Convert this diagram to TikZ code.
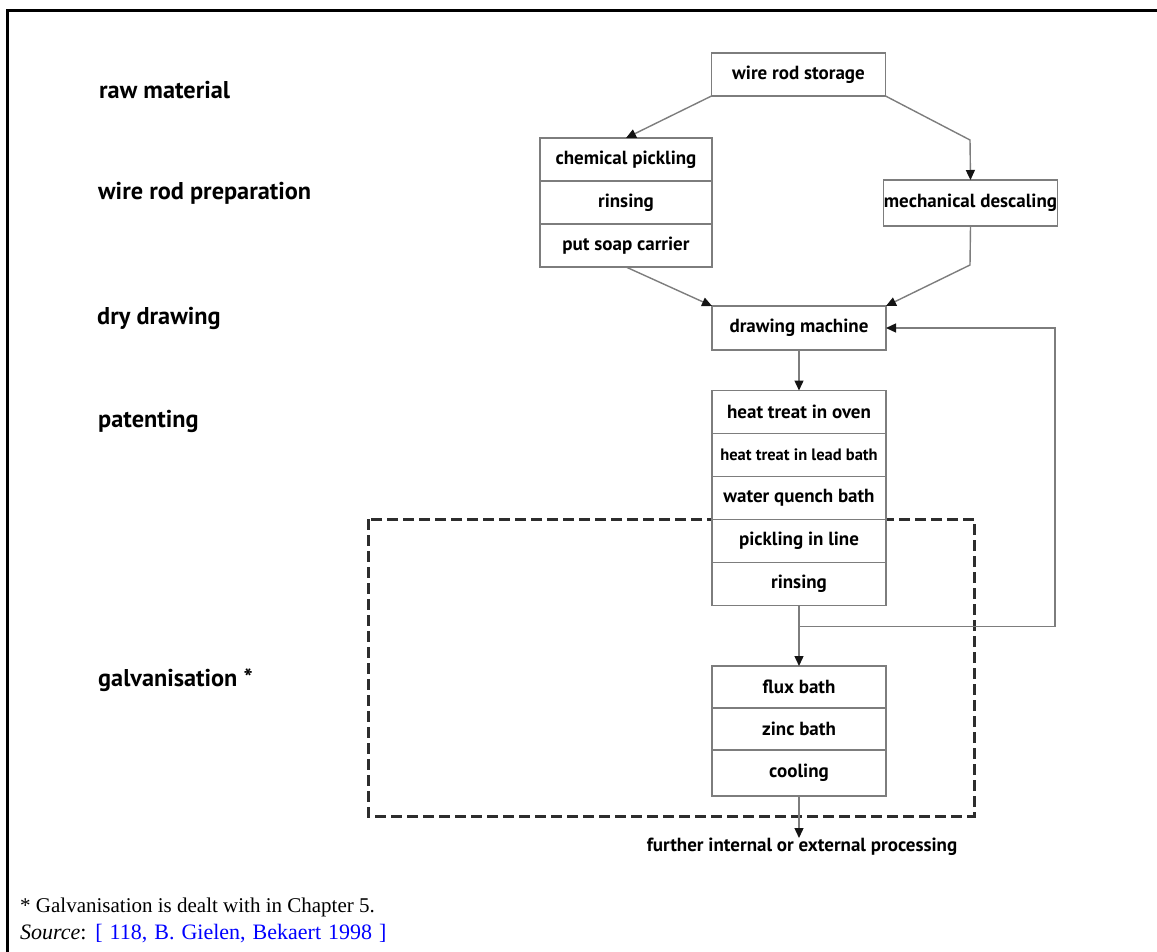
\documentclass[tikz,border=0pt]{standalone}
\usepackage{fontspec}
\setmainfont{Liberation Serif}
\newfontfamily\stepfont{PT Sans}
\usetikzlibrary{arrows.meta, positioning, backgrounds}
\definecolor{linecolor}{RGB}{125, 125, 125}
\definecolor{tipcolor}{RGB}{20, 20, 20}
\definecolor{dashcolor}{RGB}{45, 45, 45}
\definecolor{srccolor}{RGB}{0, 0, 255}
\tikzset{
  cell/.style={
    rectangle, minimum width=174pt, minimum height=43pt,
    inner sep=0pt, outer sep=0pt, text centered,
    font=\stepfont\bfseries\fontsize{19}{22}\selectfont,
    draw=linecolor, line width=1.4pt, fill=white
  },
  smallcell/.style={
    cell, font=\stepfont\bfseries\fontsize{16.5}{19}\selectfont
  },
  stagelabel/.style={
    anchor=west, inner sep=0pt,
    font=\stepfont\bfseries\fontsize{24.3}{28}\selectfont
  },
  arr/.style={
    -{Triangle[length=10pt, width=9pt, color=tipcolor]},
    line width=1.4pt, draw=linecolor
  },
  flow/.style={
    line width=1.4pt, draw=linecolor
  },
  galvbox/.style={
    dashed, dash pattern=on 11pt off 5pt, line width=3pt, draw=dashcolor
  },
  frameline/.style={
    line width=3pt, draw=black
  },
  note/.style={
    anchor=west, inner sep=0pt, font=\fontsize{21}{24}\selectfont
  }
}

\begin{document}
\begin{tikzpicture}[x=1pt, y=-1pt]

  \useasboundingbox (0,0) rectangle (1157,952);

  % ── Frame ──────────────────────────────────────────────────
  \draw[frameline] (7,952) -- (7,11) -- (1157,11);

  % ── Stage labels ───────────────────────────────────────────
  \node[stagelabel] (lraw)   at (99,90)  {raw material};
  \node[stagelabel] (lprep)  at (98,193) {wire rod preparation};
  \node[stagelabel] (ldry)   at (97,318) {dry drawing};
  \node[stagelabel] (lpat)   at (98,421) {patenting};
  \node[stagelabel] (lgalv)  at (98,680) {galvanisation *};

  % ── Raw material ───────────────────────────────────────────
  \node[cell] (store) at (798.5,74.5) {wire rod storage};

  % ── Wire rod preparation ───────────────────────────────────
  \node[cell, minimum width=172pt] (chem) at (626,159.5) {chemical pickling};
  \node[cell, minimum width=172pt, below=0pt of chem] (rinsea) {rinsing};
  \node[cell, minimum width=172pt, below=0pt of rinsea] (soap) {put soap carrier};
  \node[cell, minimum height=46pt] (desc) at (970.5,203) {mechanical descaling};

  % ── Dry drawing ────────────────────────────────────────────
  \node[cell, minimum height=44pt] (draw) at (799,328) {drawing machine};

  % ── Patenting ──────────────────────────────────────────────
  \node[cell]      (oven)   at (799,412) {heat treat in oven};
  \node[smallcell, below=0pt of oven]   (lead)   {heat treat in lead bath};
  \node[cell,      below=0pt of lead]   (quench) {water quench bath};
  \node[cell,      below=0pt of quench] (pickle) {pickling in line};
  \node[cell,      below=0pt of pickle] (rinseb) {rinsing};

  % ── Galvanisation ──────────────────────────────────────────
  \node[cell, minimum height=42pt] (flux) at (799,687) {flux bath};
  \node[cell, minimum height=42pt, below=0pt of flux] (zinc) {zinc bath};
  \node[cell, minimum height=46pt, below=0pt of zinc] (cool) {cooling};

  \node[inner sep=0pt, anchor=north, font=\stepfont\bfseries\fontsize{19}{22}\selectfont]
    (further) at (802,838) {further internal or external processing};

  % ── Flow arrows ────────────────────────────────────────────
  \coordinate (bendr) at (970,140);
  \coordinate (bendd) at (970,265);
  \coordinate[below=21pt of rinseb.south] (split);
  \coordinate (backr) at (1055,626);

  \draw[arr]  (store.south west) -- (chem.north);
  \draw[arr]  (store.south east) -- (bendr) -- (desc.north);
  \draw[arr]  (soap.south) -- (draw.north west);
  \draw[arr]  (desc.south) -- (bendd) -- (draw.north east);
  \draw[arr]  (draw.south) -- (oven.north);
  \draw[flow] (rinseb.south) -- (split);
  \draw[arr]  (split) -- (flux.north);
  \draw[arr]  (split) -- (split -| backr) |- (draw.east);
  \draw[arr]  (cool.south) -- (cool.south |- further.north);

  % ── Galvanisation border ───────────────────────────────────
  \begin{scope}[on background layer]
    \draw[galvbox] (368,519) rectangle (974,816);
  \end{scope}

  % ── Footnote ───────────────────────────────────────────────
  \node[note] (foot) at (20,907) {* Galvanisation is dealt with in Chapter 5.};
  \node[note, font=\fontsize{22}{25}\selectfont] (src) at (20,934)
    {\spaceskip=7pt\textit{Source}: \textcolor{srccolor}{[ 118, B. Gielen, Bekaert 1998 ]}};

\end{tikzpicture}
\end{document}
